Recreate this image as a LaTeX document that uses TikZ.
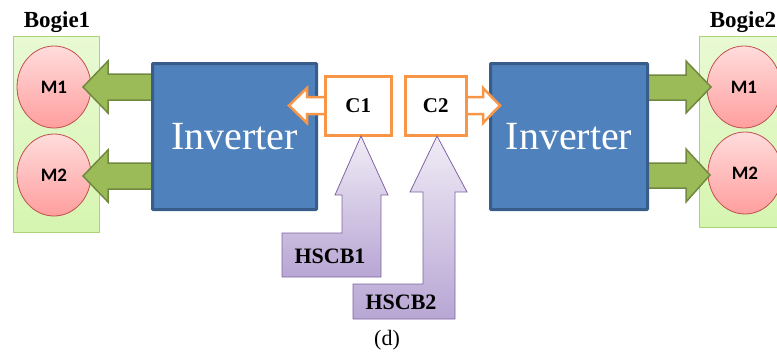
\documentclass[tikz,border=0pt]{standalone}
\usepackage{fontspec}
\setmainfont{Liberation Serif}
\newfontfamily\calfont{Carlito}
\definecolor{invfill}{RGB}{79,129,189}
\definecolor{invline}{RGB}{56,93,138}
\definecolor{grfill}{RGB}{155,187,89}
\definecolor{grline}{RGB}{113,137,63}
\definecolor{bgfill}{RGB}{214,245,176}
\definecolor{bgline}{RGB}{172,212,118}
\definecolor{mtop}{RGB}{255,220,220}
\definecolor{mbot}{RGB}{255,158,158}
\definecolor{mline}{RGB}{192,80,77}
\definecolor{orline}{RGB}{247,150,70}
\definecolor{putop}{RGB}{240,236,246}
\definecolor{pubot}{RGB}{184,166,212}
\definecolor{puline}{RGB}{128,100,162}
\tikzset{
  bogie/.style={draw=bgline, line width=1pt, top color=bgfill!55!white, bottom color=bgfill, minimum width=86pt, minimum height=196pt, inner sep=0pt},
  motor/.style={ellipse, draw=mline, line width=0.8pt, top color=mtop, bottom color=mbot, minimum width=74pt, minimum height=82pt, inner sep=0pt, font=\calfont\bfseries\fontsize{19}{19}\selectfont},
  inv/.style={draw=invline, line width=2pt, fill=invfill, rounded corners=1pt, minimum width=163pt, minimum height=145pt, inner sep=0pt, text=white, font=\fontsize{40}{40}\selectfont},
  cbox/.style={draw=orline, line width=2.5pt, fill=white, inner sep=0pt, font=\bfseries\fontsize{21}{21}\selectfont},
  grarrow/.style={draw=grline, line width=1.5pt, fill=grfill, line join=miter},
  orarrow/.style={draw=orline, line width=2.5pt, fill=white, line join=miter},
  puarrow/.style={draw=puline, line width=0.8pt, top color=putop, bottom color=pubot, line join=miter},
  lbl/.style={font=\bfseries\fontsize{23}{23}\selectfont, inner sep=0pt},
  hlbl/.style={font=\bfseries\fontsize{22}{22}\selectfont, inner sep=0pt}
}
\usetikzlibrary{shapes.geometric}
\begin{document}
\begin{tikzpicture}[x=1pt,y=-1pt]
\useasboundingbox (0,0) rectangle (777,354);
\clip (0,0) rectangle (777,354);
% bogies
\node[bogie, anchor=north west] (bog1) at (13,36) {};
\node[bogie, anchor=north west, minimum width=100pt, minimum height=191pt] (bog2) at (699,36) {};
\node[lbl] (bl1) at (57,22) {Bogie1};
\node[lbl] (bl2) at (743,22) {Bogie2};
% motors
\node[motor] (m11) at (54,87) {M1};
\node[motor] (m12) at (54,175) {M2};
\node[motor] (m21) at (744,87) {M1};
\node[motor] (m22) at (745,173) {M2};
% inverters
\node[inv, anchor=north west] (inv1) at (152,63) {Inverter};
\node[inv, anchor=north west, minimum width=156pt] (inv2) at (490,63) {Inverter};
% green arrows
\draw[grarrow] (inv1.west |- 0,74) -- (108,74) -- (108,61) -- (83,87) -- (108,113) -- (108,100) -- (inv1.west |- 0,100);
\draw[grarrow] (inv1.west |- 0,163) -- (108,163) -- (108,150) -- (83,176) -- (108,202) -- (108,189) -- (inv1.west |- 0,189);
\draw[grarrow] (inv2.east |- 0,75) -- (686,75) -- (686,61) -- (711,87) -- (686,113) -- (686,100) -- (inv2.east |- 0,100);
\draw[grarrow] (inv2.east |- 0,163) -- (686,163) -- (686,149) -- (710,175) -- (686,202) -- (686,188) -- (inv2.east |- 0,188);
\draw[draw=invline, line width=2pt, rounded corners=1pt] (inv1.north west) rectangle (inv1.south east);
\draw[draw=invline, line width=2pt, rounded corners=1pt] (inv2.north west) rectangle (inv2.south east);
% orange arrows
\draw[orarrow] (330,97) -- (307,97) -- (307,88) -- (289,105.5) -- (307,123) -- (307,114) -- (330,114);
\draw[orarrow] (460,97) -- (483,97) -- (483,88) -- (500,105.5) -- (483,123) -- (483,114) -- (460,114);
% C boxes
\node[cbox, minimum width=66pt, minimum height=59pt, anchor=north west] (c1) at (324,75) {C1};
\node[cbox, minimum width=61pt, minimum height=59pt, anchor=north west] (c2) at (404,75) {C2};
% HSCB arrows
\draw[puarrow] (282,233) -- (342,233) -- (342,195) -- (335,195) -- (361,136) -- (388,195) -- (381,195) -- (381,277) -- (282,277) -- cycle;
\draw[puarrow] (353,284) -- (423,284) -- (423,192) -- (410,192) -- (437,136) -- (467,192) -- (455,192) -- (455,319) -- (353,319) -- cycle;
\node[hlbl] (h1) at (330,256) {HSCB1};
\node[hlbl] (h2) at (401,302) {HSCB2};
\node[font=\fontsize{22}{22}\selectfont, inner sep=0pt] (cap) at (387,340) {(d)};
\end{tikzpicture}
\end{document}
